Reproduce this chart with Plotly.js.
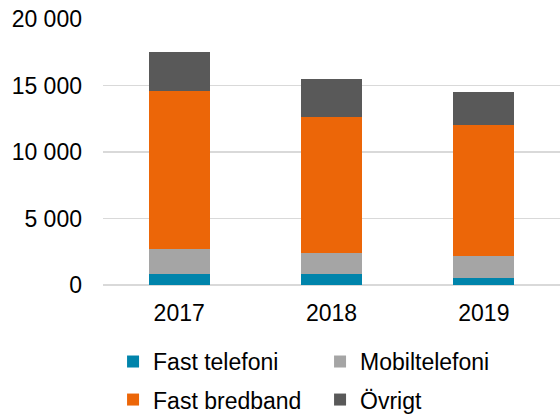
<!DOCTYPE html>
<html>
<head>
<meta charset="utf-8">
<script src="https://cdn.plot.ly/plotly-3.0.1.min.js"></script>
<style>html,body{margin:0;padding:0;background:#fff;}#chart{width:560px;height:414px;}</style>
</head>
<body>
<div id="chart"></div>
<script>
const years = ['2017', '2018', '2019'];
const fastTelefoni = [850, 850, 500];
const mobiltelefoni = [1880, 1580, 1680];
const fastBredband = [11860, 10200, 9850];
const ovrigt = [2910, 2840, 2460];
const yTicks = [0, 5000, 10000, 15000, 20000];

const seriesNames = ['Fast telefoni', 'Mobiltelefoni', 'Fast bredband', 'Övrigt'];
const seriesColors = ['#0084AB', '#A5A5A5', '#EC6608', '#595959'];
const seriesValues = [fastTelefoni, mobiltelefoni, fastBredband, ovrigt];
const seriesLegend = ['legend', 'legend', 'legend2', 'legend2'];

const traces = seriesValues.map((vals, i) => ({
  type: 'bar',
  name: seriesNames[i],
  x: years,
  y: vals,
  marker: {color: seriesColors[i]},
  legend: seriesLegend[i],
  hoverinfo: 'skip'
}));

const font = 'Liberation Sans, Arial, sans-serif';
const legendBase = {
  orientation: 'h',
  traceorder: 'normal',
  x: 0.022, xanchor: 'left',
  yanchor: 'top',
  entrywidth: 162, entrywidthmode: 'pixels',
  font: {family: font, size: 23, color: '#000000'},
  bgcolor: 'rgba(0,0,0,0)'
};
const layout = {
  width: 560, height: 414,
  margin: {l: 103, r: 0, t: 19, b: 129, autoexpand: false},
  barmode: 'stack',
  bargap: 0.6,
  separators: ', ',
  paper_bgcolor: '#ffffff',
  plot_bgcolor: '#ffffff',
  font: {family: font, size: 23, color: '#000000'},
  showlegend: true,
  legend: Object.assign({}, legendBase, {y: -0.207}),
  legend2: Object.assign({}, legendBase, {y: -0.35}),
  xaxis: {
    type: 'category',
    showgrid: false,
    showline: false,
    zeroline: false,
    ticks: '',
    ticklabelstandoff: 12,
    tickfont: {family: font, size: 23, color: '#000000'}
  },
  yaxis: {
    range: [0, 20000],
    tickvals: yTicks,
    tickformat: ',',
    showgrid: true,
    gridcolor: '#D9D9D9',
    gridwidth: 1.3,
    zeroline: true,
    zerolinecolor: '#D9D9D9',
    zerolinewidth: 1.3,
    showline: false,
    ticks: '',
    ticklabelstandoff: 20,
    tickfont: {family: font, size: 23, color: '#000000'}
  }
};

Plotly.newPlot('chart', traces, layout, {displayModeBar: false, staticPlot: true});
</script>
</body>
</html>
